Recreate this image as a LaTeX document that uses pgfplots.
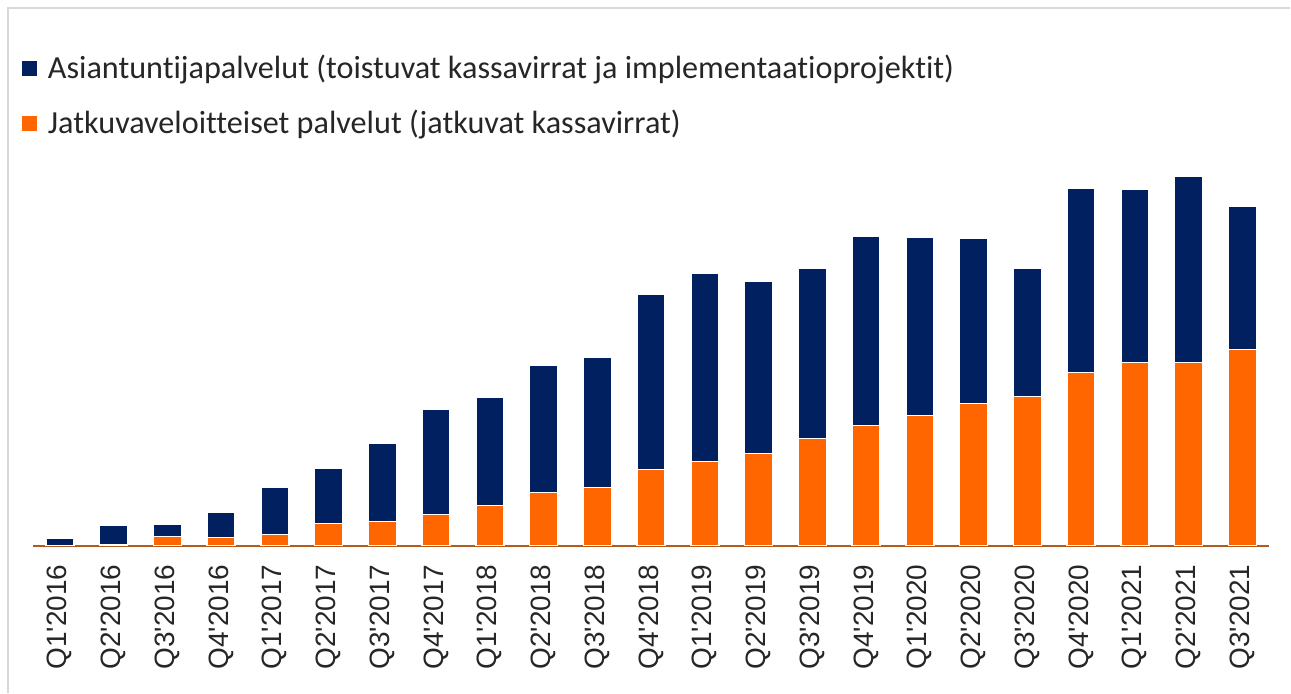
\documentclass[border=0pt]{standalone}
\usepackage{pgfplots}
\pgfplotsset{compat=1.18}
\usepackage{fontspec}
\setmainfont{Carlito}[Ligatures={NoCommon}]
\newfontfamily\tickfont{Liberation Sans}

\definecolor{navy}{HTML}{002060}
\definecolor{orng}{HTML}{FF6600}
\definecolor{baseln}{HTML}{B35A1F}
\definecolor{txt}{HTML}{262626}
\definecolor{frame}{HTML}{D9D9D9}

\begin{document}
\begin{tikzpicture}
% whole picture, 1 px = 0.5pt
\path (0,0) rectangle (645.5pt,346.5pt);
\draw[frame, line width=0.8pt] (4pt,0pt) -- (4pt,342.5pt) -- (645.5pt,342.5pt);

\begin{axis}[
    at={(16.5pt,73.5pt)}, anchor=south west,
    scale only axis,
    width=618.5pt, height=188pt,
    ybar stacked,
    bar width=14pt,
    xmin=-0.5, xmax=22.5,
    ymin=0, ymax=376,
    axis x line=bottom,
    axis y line=none,
    x axis line style={-, color=baseln, line width=1pt},
    xtick=data,
    xticklabels={Q1'2016,Q2'2016,Q3'2016,Q4'2016,Q1'2017,Q2'2017,Q3'2017,Q4'2017,
        Q1'2018,Q2'2018,Q3'2018,Q4'2018,Q1'2019,Q2'2019,Q3'2019,Q4'2019,
        Q1'2020,Q2'2020,Q3'2020,Q4'2020,Q1'2021,Q2'2021,Q3'2021},
    xticklabel style={rotate=90, anchor=east, font=\tickfont\fontsize{14}{16}\selectfont, text=txt},
    xticklabel shift=6pt,
    major tick length=0pt,
    clip=false,
    reverse legend,
    legend cell align=left,
    legend style={draw=none, fill=none, inner sep=0pt,
        at={(rel axis cs:-0.009,1.318)}, anchor=north west,
        font=\fontsize{16.1}{19}\selectfont, text=txt,
        row sep=10.5pt},
    legend image code/.code={\path[#1, draw=none] (0pt,-3.75pt) rectangle (7.5pt,3.75pt);
        \path (10.5pt,0pt);},
]
\addplot[fill=orng, draw=white, line width=0.7pt] coordinates {
(0,0) (1,1) (2,9) (3,8) (4,11) (5,22) (6,24) (7,31) (8,40) (9,53) (10,58)
(11,76) (12,84) (13,92) (14,107) (15,120) (16,130) (17,142) (18,149)
(19,173) (20,183) (21,183) (22,196)};
\addlegendentry{Jatkuvaveloitteiset palvelut (jatkuvat kassavirrat)}
\addplot[fill=navy, draw=white, line width=0.7pt] coordinates {
(0,7) (1,19) (2,12) (3,25) (4,47) (5,55) (6,78) (7,105) (8,108) (9,127) (10,130)
(11,176) (12,189) (13,173) (14,171) (15,190) (16,179) (17,166) (18,129)
(19,185) (20,174) (21,187) (22,144)};
\addlegendentry{Asiantuntijapalvelut (toistuvat kassavirrat ja implementaatioprojektit)}
\end{axis}
\end{tikzpicture}
\end{document}
